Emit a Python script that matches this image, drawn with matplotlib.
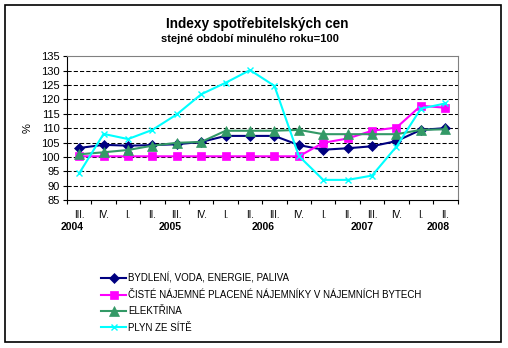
import matplotlib
matplotlib.use("Agg")
import matplotlib.pyplot as plt
from matplotlib.patches import Rectangle

plt.rcParams["font.family"] = ["Liberation Sans", "DejaVu Sans"]

W, H = 508, 348

quarters = ["III.", "IV.", "I.", "II.", "III.", "IV.", "I.", "II.",
            "III.", "IV.", "I.", "II.", "III.", "IV.", "I.", "II."]
years = ["2004", "2005", "2006", "2007", "2008"]

bydleni = [103.1, 104.2, 103.9, 104.1, 104.4, 105.2, 107.3, 107.3,
           107.3, 104.1, 102.5, 103.0, 103.7, 105.5, 109.4, 110.0]
najemne = [100.2, 100.2, 100.2, 100.2, 100.2, 100.2, 100.2, 100.2,
           100.2, 100.2, 104.9, 106.4, 109.1, 110.2, 117.8, 117.1]
elektrina = [100.9, 101.6, 102.4, 103.9, 104.9, 105.2, 109.1, 109.1,
             109.1, 109.4, 107.9, 107.9, 107.9, 107.9, 109.4, 109.6]
plyn = [94.3, 108.0, 106.2, 109.4, 114.8, 121.8, 125.8, 130.2,
        124.7, 100.3, 92.0, 92.0, 93.5, 103.6, 116.8, 118.6]

labels = [
    "BYDLENÍ, VODA, ENERGIE, PALIVA",
    "ČISTÉ NÁJEMNÉ PLACENÉ NÁJEMNÍKY V NÁJEMNÍCH BYTECH",
    "ELEKTŘINA",
    "PLYN ZE SÍTĚ",
]


def px(x, y):
    return x / W, 1 - y / H


fig = plt.figure(figsize=(W / 100, H / 100), dpi=100)
fig.patches.append(Rectangle((5 / W, 1 - 342 / H), 496 / W, 337.5 / H,
                             transform=fig.transFigure, fill=False,
                             edgecolor="black", linewidth=1.2))

left, right, top, bottom = 67, 457.5, 56.3, 200
ax = fig.add_axes([left / W, 1 - bottom / H, (right - left) / W, (bottom - top) / H])

x = list(range(len(quarters)))
series = [
    (bydleni, "#000080", "D", 5, 1.5),
    (najemne, "#FF00FF", "s", 6, 1.5),
    (elektrina, "#339966", "^", 6.5, 1.5),
    (plyn, "#00FFFF", "x", 4, 1.5),
]
handles = []
for (vals, color, marker, ms, lw), lab in zip(series, labels):
    h, = ax.plot(x, vals, color=color, marker=marker, markersize=ms,
                 linewidth=lw, markeredgewidth=1 if marker == "x" else 0.5,
                 markeredgecolor=color, label=lab)
    handles.append(h)

ax.set_xlim(-0.5, len(quarters) - 0.5)
ax.set_ylim(85, 135)
ax.set_yticks(range(85, 140, 5))
ax.tick_params(axis="y", labelsize=8, length=3, width=0.8, direction="out", pad=2)
for v in range(90, 135, 5):
    ax.axhline(v, color="black", linewidth=0.75, linestyle=(0, (4, 2)), zorder=0)

ax.set_xticks([i - 0.5 for i in range(len(quarters) + 1)])
ax.set_xticklabels([])
ax.tick_params(axis="x", length=3, width=0.8, direction="out")
for i, q in enumerate(quarters):
    ax.text(i, -0.105, q, transform=ax.get_xaxis_transform(), ha="center",
            va="center", fontsize=7)
year_pos = [-0.3, 3.74, 7.55, 11.6, 14.7]
for yp, yr in zip(year_pos, years):
    ax.text(yp, -0.19, yr, transform=ax.get_xaxis_transform(), ha="center",
            va="center", fontsize=7.5, fontweight="bold")

ax.spines["top"].set_color("#808080")
ax.spines["right"].set_color("#808080")
ax.spines["left"].set_linewidth(0.8)
ax.spines["bottom"].set_linewidth(0.8)

fig.text(*px(27.5, 128), "%", rotation=90, ha="center", va="center", fontsize=8)
fig.text(*px(257, 24), "Indexy spotřebitelských cen", ha="center", va="center",
         fontsize=9.8, fontweight="bold")
fig.text(*px(250, 39.5), "stejné období minulého roku=100", ha="center",
         va="center", fontsize=8, fontweight="bold")

fig.legend(handles=handles, loc="upper left", bbox_to_anchor=px(96, 268),
           frameon=False, fontsize=7, handlelength=2.6, handletextpad=0.2,
           labelspacing=0.65, borderpad=0)

fig.savefig("out.png", dpi=100)
